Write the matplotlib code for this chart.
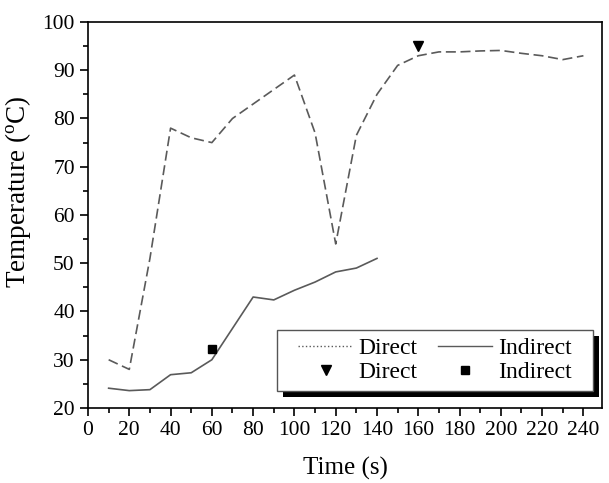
import numpy as np
import matplotlib
matplotlib.use("Agg")
import matplotlib.pyplot as plt
from matplotlib.lines import Line2D
from matplotlib.patches import Rectangle
from matplotlib.ticker import MultipleLocator

plt.rcParams['font.family'] = ['Liberation Serif', 'DejaVu Serif']
plt.rcParams['mathtext.fontset'] = 'custom'
plt.rcParams['mathtext.rm'] = 'Liberation Serif'

# time (s)
t_direct = [10, 20, 30, 40, 50, 60, 70, 80, 90, 100, 110, 120, 130, 140,
            150, 160, 170, 180, 190, 200, 210, 220, 230, 240]
temp_direct = [30, 28, 51, 78, 76, 75, 80, 83, 86, 89, 77, 54, 76.5, 85,
               91, 93, 93.8, 93.8, 94, 94.1, 93.5, 93, 92.2, 93]

t_indirect = [10, 20, 30, 40, 50, 60, 70, 80, 90, 100, 110, 120, 130, 140]
temp_indirect = [24.1, 23.6, 23.8, 26.9, 27.3, 30, 36.5, 43, 42.4, 44.4,
                 46.1, 48.2, 49, 51]

# single measured points
mark_direct = ([160], [95])
mark_indirect = ([60], [32.3])

fig = plt.figure(figsize=(6.09, 4.83), dpi=100)
ax = fig.add_axes([0.1445, 0.1553, 0.8440, 0.7992])

gray = '#5a5a5a'
ax.plot(t_direct, temp_direct, color=gray, lw=1.2, dashes=(6, 2.8))
ax.plot(t_indirect, temp_indirect, color=gray, lw=1.2)
ax.plot(*mark_direct, 'v', color='black', ms=7)
ax.plot(*mark_indirect, 's', color='black', ms=5.5)

ax.set_xlim(0, 249)
ax.set_ylim(20, 100)
ax.xaxis.set_major_locator(MultipleLocator(20))
ax.xaxis.set_minor_locator(MultipleLocator(10))
ax.yaxis.set_major_locator(MultipleLocator(10))
ax.yaxis.set_minor_locator(MultipleLocator(5))
ax.tick_params(which='major', direction='out', length=6, width=1.2, labelsize=15.5)
ax.tick_params(which='minor', direction='out', length=3.5, width=1.2)
for s in ax.spines.values():
    s.set_linewidth(1.2)

ax.set_xlabel('Time (s)', fontsize=18, labelpad=12)
ax.set_ylabel(r'Temperature ($\mathregular{^o}$C)', fontsize=19.5)
ax.yaxis.set_label_coords(-0.107, 0.56)

# legend frame with a hard black shadow
bx0, by0, bx1, by1 = 0.3677, 0.044, 0.9825, 0.2021
ax.add_patch(Rectangle((bx0 + 0.0117, by0 - 0.0155), bx1 - bx0, by1 - by0,
                       transform=ax.transAxes, facecolor='black',
                       edgecolor='none', zorder=4, clip_on=False))
ax.add_patch(Rectangle((bx0, by0), bx1 - bx0, by1 - by0,
                       transform=ax.transAxes, facecolor='white',
                       edgecolor='#555555', lw=1.0, zorder=5, clip_on=False))

handles = [
    Line2D([], [], color=gray, lw=1.0, ls=':'),
    Line2D([], [], color='black', marker='v', ls='none', ms=7),
    Line2D([], [], color=gray, lw=1.0),
    Line2D([], [], color='black', marker='s', ls='none', ms=5.5),
]
labels = ['Direct', 'Direct', 'Indirect', 'Indirect']
leg = ax.legend(handles, labels, ncol=2, loc='center',
                bbox_to_anchor=((bx0 + bx1) / 2, (by0 + by1) / 2),
                fontsize=17, frameon=False,
                handlelength=2.3, columnspacing=0.85, handletextpad=0.25,
                labelspacing=0.1, borderpad=0.0)
leg.set_zorder(6)

fig.savefig('out.png', dpi=100)
